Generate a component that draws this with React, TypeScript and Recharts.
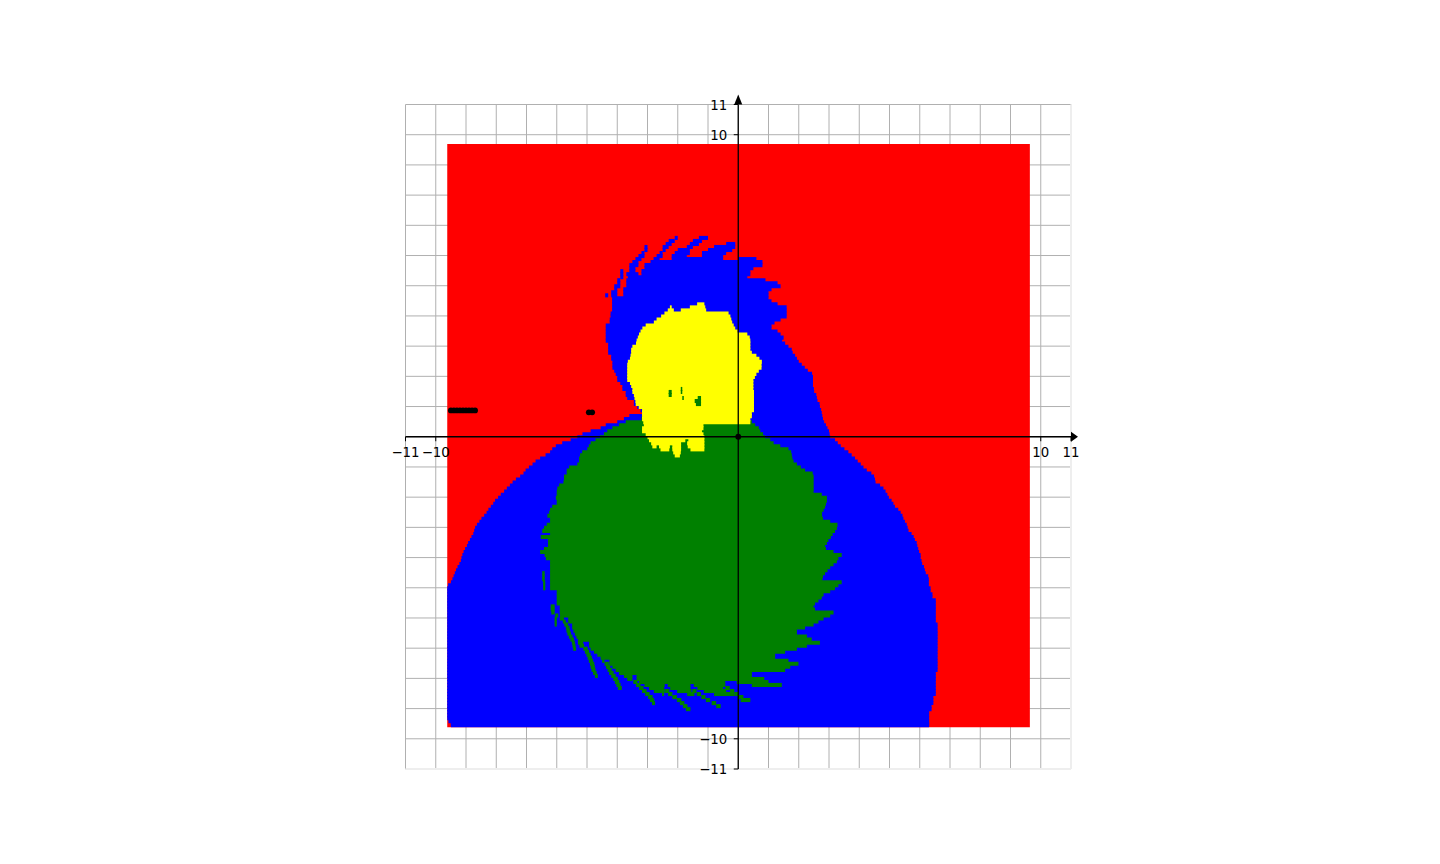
import React from 'react';
import {
  ScatterChart,
  Scatter,
  XAxis,
  YAxis,
  CartesianGrid,
  ReferenceArea,
  ReferenceLine,
  ReferenceDot,
} from 'recharts';

const gridTicks = [-11, -10, -9, -8, -7, -6, -5, -4, -3, -2, -1, 0, 1, 2, 3, 4, 5, 6, 7, 8, 9, 10, 11];
const labelledTicks = [-11, -10, 10, 11];

// Basins are sampled on a 0.1 grid, so rows and run ends are in tenths of an axis unit.
// Each row: [row, from, to, from, to, ...]
const domainBox = { x0: -96.2, x1: 96.4, y0: -96.2, y1: 96.9 };

const blueRows: number[][] = [
  [66, -21, -20, -13, -10],
  [65, -23, -21, -15, -12],
  [64, -24, -22, -16, -13, -4, -1],
  [63, -31, -30, -25, -23, -17, -15, -8, -1],
  [62, -31, -30, -25, -24, -20, -16, -10, -2],
  [61, -32, -31, -26, -25, -21, -16, -12, -4],
  [60, -33, -31, -27, -25, -22, -17, -12, -5],
  [59, -34, -32, -28, -26, -22, -5, 0, 6],
  [58, -35, -33, -29, 8],
  [57, -36, -33, -31, 8],
  [56, -36, -34, -31, 5],
  [55, -39, -38, -36, -34, -32, 4],
  [54, -39, -38, -37, -33, -32, 4],
  [53, -39, -38, -36.5, 3],
  [52, -40, -39, -37, 9],
  [51, -40, -39, -37, 13],
  [50, -41, -39, -37, 14],
  [49, -41, -40, -38, 11],
  [48, -42, -40, -38, 10],
  [47, -44, -43, -42, -40, -38, 10],
  [46, -41.7, 10],
  [45, -41.7, 11],
  [44, -41.7, 13],
  [43, -41.7, 16],
  [42, -41.7, 16],
  [41, -42.2, 16],
  [40, -42.2, 16],
  [39, -42.5, 14],
  [38, -42.5, 12],
  [37, -43.8, 11],
  [36, -43.8, 11],
  [35, -43.8, 13],
  [34, -43.8, 14],
  [33, -43.8, 15],
  [32, -43.8, 14.5],
  [31, -43, 15.5],
  [30, -43, 16.6],
  [29, -43, 17.7],
  [28, -43, 18],
  [27, -42, 18.8],
  [26, -42, 19.4],
  [25, -41.6, 20],
  [24, -41.6, 21],
  [23, -41.6, 22],
  [22, -41, 23],
  [21, -40.5, 24.4],
  [20, -40, 24.7],
  [19, -40, 24.7],
  [18, -39, 24.7],
  [17, -38.3, 24.7],
  [16, -38.3, 25],
  [15, -37.2, 25.1],
  [14, -37.2, 25.8],
  [13, -36.7, 26],
  [12, -34.5, 26.2],
  [11, -34.5, 26.9],
  [10, -33.4, 27],
  [9, -32.3, 27.4],
  [8, -31.8, 27.6],
  [7, -36, 27.8],
  [6, -37.8, 28],
  [5, -40, 28.4],
  [4, -43.8, 29],
  [3, -45.5, 29.5],
  [2, -48.8, 30],
  [1, -51.5, 30.2],
  [0, -53.2, 30.4],
  [-1, -55.4, 32],
  [-2, -58.2, 32.9],
  [-3, -60.3, 33.9],
  [-4, -61.5, 35.1],
  [-5, -62.2, 36.4],
  [-6, -63.7, 37.5],
  [-7, -65.5, 38.6],
  [-8, -67, 39.5],
  [-9, -68, 40.5],
  [-10, -69.2, 41.4],
  [-11, -70.3, 42.5],
  [-12, -71, 44],
  [-13, -72.1, 44.9],
  [-14, -73.5, 45.2],
  [-15, -74.6, 45.4],
  [-16, -75.5, 46.9],
  [-17, -76.5, 48],
  [-18, -77.4, 48.7],
  [-19, -78.5, 49.3],
  [-20, -79.4, 49.8],
  [-21, -80.4, 50.7],
  [-22, -81, 51.3],
  [-23, -81.8, 51.8],
  [-24, -82.6, 52.9],
  [-25, -83.2, 53.7],
  [-26, -84, 54.3],
  [-27, -84.9, 54.6],
  [-28, -85.6, 55.1],
  [-29, -86.4, 55.7],
  [-30, -87, 56],
  [-31, -87.3, 56.3],
  [-32, -87.6, 57.3],
  [-33, -88.2, 58],
  [-34, -88.7, 58.4],
  [-35, -89.3, 59],
  [-36, -89.7, 59.2],
  [-37, -90.3, 59.5],
  [-38, -90.8, 59.8],
  [-39, -91.2, 60.3],
  [-40, -91.5, 60.3],
  [-41, -91.7, 60.6],
  [-42, -92.2, 60.8],
  [-43, -92.8, 61.4],
  [-44, -93.3, 61.7],
  [-45, -93.7, 62],
  [-46, -94.1, 62.8],
  [-47, -94.5, 63],
  [-48, -95, 63],
  [-49, -95.9, 63],
  [-50, -96.2, 63.6],
  [-51, -96.2, 63.6],
  [-52, -96.2, 64.2],
  [-53, -96.2, 64.2],
  [-54, -96.2, 65.3],
  [-55, -96.2, 65.3],
  [-56, -96.2, 65.3],
  [-57, -96.2, 65.3],
  [-58, -96.2, 65.3],
  [-59, -96.2, 65.3],
  [-60, -96.2, 65.3],
  [-61, -96.2, 65.3],
  [-62, -96.2, 65.9],
  [-63, -96.2, 65.9],
  [-64, -96.2, 65.9],
  [-65, -96.2, 65.9],
  [-66, -96.2, 65.9],
  [-67, -96.2, 65.9],
  [-68, -96.2, 65.9],
  [-69, -96.2, 65.9],
  [-70, -96.2, 65.9],
  [-71, -96.2, 65.9],
  [-72, -96.2, 65.9],
  [-73, -96.2, 65.9],
  [-74, -96.2, 65.9],
  [-75, -96.2, 65.9],
  [-76, -96.2, 65.9],
  [-77, -96.2, 65.9],
  [-78, -96.2, 65.3],
  [-79, -96.2, 65.3],
  [-80, -96.2, 65.3],
  [-81, -96.2, 65.3],
  [-82, -96.2, 65.3],
  [-83, -96.2, 65.3],
  [-84, -96.2, 65.3],
  [-85, -96.2, 65.3],
  [-86, -96.2, 64.5],
  [-87, -96.2, 64.5],
  [-88, -96.2, 64.5],
  [-89, -96.2, 63.9],
  [-90, -96.2, 63.9],
  [-91, -96.2, 63.1],
  [-92, -96.2, 63.1],
  [-93, -96.2, 63.1],
  [-94, -95.8, 63.1],
  [-95, -95, 63.1],
  [-95.3, -95, 63.1],
];

const greenRows: number[][] = [
  [6, -32, -28],
  [5, -37.2, 4.5],
  [4, -39.4, 5.6],
  [3, -41.6, 6.8],
  [2, -43.3, 7.3],
  [1, -44.4, 8.2],
  [0, -45.7, 8.9],
  [-1, -47.2, 10.6],
  [-2, -48.8, 11.7],
  [-3, -49.4, 13.9],
  [-4, -49.9, 16.6],
  [-5, -51.6, 17.5],
  [-6, -52.3, 17.7],
  [-7, -52.6, 17.9],
  [-8, -52.6, 18.3],
  [-9, -53.2, 19.4],
  [-10, -55.9, 20.7],
  [-11, -56.7, 22.1],
  [-12, -56.7, 24.6],
  [-13, -57.6, 24.9],
  [-14, -57.6, 24.9],
  [-15, -57.8, 24.9],
  [-16, -59.2, 24.9],
  [-17, -59.8, 24.9],
  [-18, -60, 24.9],
  [-19, -60, 27.6],
  [-20, -60.3, 29.3],
  [-21, -60, 29.3],
  [-22, -60, 29],
  [-23, -61.5, 28.7],
  [-24, -62.2, 28.2],
  [-25, -62.5, 27.7],
  [-26, -63.1, 27.7],
  [-27, -62.2, 28],
  [-28, -62.2, 30.4],
  [-29, -63.3, 32.8],
  [-30, -64.2, 32.6],
  [-31, -64.8, 32],
  [-32, -62.2, 31.2],
  [-33, -65.3, 30.6],
  [-34, -62.9, 29.8],
  [-35, -62.9, 29.3],
  [-36, -62.9, 28.7],
  [-37, -64.2, 29],
  [-38, -65.5, 31.5],
  [-39, -64, 34.2],
  [-40, -63.6, 33.1],
  [-41, -62.2, 32.6],
  [-42, -62.2, 31.5],
  [-43, -62.2, 30.4],
  [-44, -62.2, 29.5],
  [-45, -64.8, -64, -62.2, 28.7],
  [-46, -64.8, -64, -62.2, 28],
  [-47, -64.8, -64, -62.2, 27.8],
  [-48, -64.5, -63.8, -62.2, 34.2],
  [-49, -64.5, -63.8, -62.2, 33.1],
  [-50, -64.5, -63.8, -62.2, 32],
  [-51, -60, 30.4],
  [-52, -60, 28.2],
  [-53, -60, 27.6],
  [-54, -60, 26.5],
  [-55, -60, 25.4],
  [-56, -62, -60.7, -59, 24.9],
  [-57, -62, -60.7, -59, 25.4],
  [-58, -61.8, -60.7, -59, 31.5],
  [-59, -60.5, -59.5, -58.9, 30.4],
  [-60, -60.7, -60, -59, -57.6, -56.2, 28.2],
  [-61, -60.7, -60, -58, -57, -56.2, 26.5],
  [-62, -60.7, -60, -57.5, -56.3, -54.9, 24.9],
  [-63, -57, -55.8, -54.9, 22.1],
  [-64, -56.8, -55.6, -54.5, 19.4],
  [-65, -56.5, -55.3, -54, 19.4],
  [-66, -56, -54.8, -53.5, 22.7],
  [-67, -55.5, -54.3, -53, 24.3],
  [-68, -55, -54, -53, -51.3, -49.3, 27],
  [-69, -54.8, -53.8, -52.5, -51, -49.3, 22.7],
  [-70, -54.6, -53.6, -51.2, -49.8, -48.8, 19.4],
  [-71, -50.7, -49.3, -47.7, 15.5],
  [-72, -50.2, -48.8, -46.6, 12.2],
  [-73, -49.8, -48.4, -45.5, 12.2],
  [-74, -49.4, -48, -45, -44.2, -42.6, 16.6],
  [-75, -49, -47.6, -44.2, -42.8, -42.6, 19.9],
  [-76, -48.8, -47.4, -43.7, -42.3, -41.6, 17.2],
  [-77, -48.5, -47.2, -43.2, -41.8, -40.5, 15.5],
  [-78, -48, -46.8, -42.7, -41.2, -39.4, 4.5],
  [-79, -47.4, -46.4, -42, -40.5, -37.8, -35, -33.6, 4.5],
  [-80, -41.3, -39.8, -36.7, -35, -33.6, 8.6],
  [-81, -40.8, -39.3, -34.7, -33.3, -32.8, -4.3, -0.5, 10],
  [-82, -40.3, -38.9, -33.8, -32.3, -31, -24.3, -23.3, -15.8, -14.7, -4.3, 4.5, 14.4],
  [-83, -39.8, -38.5, -32.8, -31.3, -29.5, -24.5, -22.5, -15.8, -13.5, -5, -4.3, -2.8],
  [-84, -31.8, -30.3, -27.9, -24.3, -24.2, -22.8, -20.2, -15.5, -15.2, -13.8, -11.4, -4, -2.7, -1.3],
  [-85, -30.8, -29.3, -25.2, -24.5, -23.2, -21.8, -16.9, -14.5, -13.7, -12.3, -8, -1.2, -1.2, 0.2],
  [-86, -29.8, -28.3, -21.8, -20.3, -12.2, -10.8, 0, 1.7],
  [-87, -29.2, -27.8, -20.3, -18.8, -10.7, -9.3, 0.8, 4],
  [-88, -28.5, -27.5, -19.3, -17.8, -8.8, -7.3],
  [-89, -18.3, -16.8, -7.3, -5.8],
  [-90, -17.3, -15.8],
];

const yellowRows: number[][] = [
  [44, -13.6, -11.2],
  [43, -22.6, -22, -16, -10.9],
  [42, -23.3, -21.3, -19, -10.6],
  [41, -24.4, -3.2],
  [40, -25.5, -2.6],
  [39, -27, -2.3],
  [38, -27.9, -2],
  [37, -30.6, -1.5],
  [36, -31.7, -1],
  [35, -32.3, -0.2],
  [34, -32.8, 3],
  [33, -33.2, 3.8],
  [32, -33.6, 4],
  [31, -33.8, 4],
  [30, -35, 4],
  [29, -35.4, 4],
  [28, -35.4, 4.5],
  [27, -35.6, 6],
  [26, -35.8, 7],
  [25, -36.5, 7.8],
  [24, -36.7, 7.7],
  [23, -36.7, 7.7],
  [22, -36.7, 6.8],
  [21, -36.7, 6],
  [20, -36.7, 5.5],
  [19, -36.7, 5],
  [18, -35.8, 5],
  [17, -35.4, 5],
  [16, -35, 5],
  [15, -35, 5.2],
  [14, -34.5, 5.2],
  [13, -34.3, 5.2],
  [12, -34, 5.2],
  [11, -33.9, 5.2],
  [10, -32.9, 5.2],
  [9, -31.8, 5.2],
  [8, -31.8, 4.5],
  [7, -31.8, 4.5],
  [6, -31.8, 4],
  [5, -31.4, 4],
  [4, -31.2, -11.5],
  [3, -31.8, -11.5],
  [2, -31.8, -12],
  [1, -30.6, -11.5],
  [0, -30, -11.2],
  [-1, -29.5, -17.5, -16.5, -11.2],
  [-2, -28.8, -18.9, -16.9, -11.2],
  [-3, -28.4, -27, -26.2, -22.6, -21.8, -18.9, -16.7, -11.2],
  [-4, -25.7, -22.8, -21.8, -18.9, -15.8, -11.2],
  [-5, -21.5, -19],
  [-6, -21, -19.3],
];

const greenSpotRows: number[][] = [
  [16, -19, -18.5],
  [15, -23, -22, -19, -18.5],
  [14, -23, -22],
  [13, -18.5, -18, -13.4, -12.3],
  [12, -14.4, -12.3],
  [11, -14, -12.3],
];

const markerPoints = [
  { x: -9.5, y: 0.87 },
  { x: -9.4, y: 0.87 },
  { x: -9.3, y: 0.87 },
  { x: -9.2, y: 0.87 },
  { x: -9.1, y: 0.87 },
  { x: -9.0, y: 0.87 },
  { x: -8.9, y: 0.87 },
  { x: -8.8, y: 0.87 },
  { x: -8.7, y: 0.87 },
  { x: -4.94, y: 0.81 },
  { x: -4.83, y: 0.81 },
  { x: 0, y: 0 },
];

// rows overlap downward a little so no antialiased seam shows the layer under them
const rowAreas = (rows: number[][], fill: string) =>
  rows.flatMap((row) => {
    const [r, ...ends] = row;
    const out: React.ReactNode[] = [];
    for (let i = 0; i < ends.length; i += 2) {
      out.push(
        <ReferenceArea
          key={`${fill}-${r}-${i}`}
          x1={ends[i] / 10}
          x2={ends[i + 1] / 10}
          y1={(r + 0.5) / 10}
          y2={(r - 0.85) / 10}
          fill={fill}
          fillOpacity={1}
          stroke="none"
          ifOverflow="visible"
        />
      );
    }
    return out;
  });

const font = '"DejaVu Sans"';

const NoTick = () => <g />;

const XTick = ({ cx, cy, value }: any) => (
  <g>
    <line x1={cx} x2={cx} y1={cy} y2={cy + 4.5} stroke="#000" strokeWidth={1} />
    <text x={cx} y={cy + 20.5} textAnchor="middle" fontFamily={font} fontSize={13.3} fill="#000">
      {value < 0 ? `\u2212${-value}` : value}
    </text>
  </g>
);

const YTick = ({ cx, cy, value }: any) => (
  <g>
    <line x1={cx - 4.5} x2={cx} y1={cy} y2={cy} stroke="#000" strokeWidth={1} />
    <text x={cx - 11} y={cy + 5} textAnchor="end" fontFamily={font} fontSize={13.3} fill="#000">
      {value < 0 ? `\u2212${-value}` : value}
    </text>
  </g>
);

const ArrowRight = ({ cx, cy }: any) => (
  <polygon points={`${cx},${cy - 5} ${cx + 7},${cy} ${cx},${cy + 5}`} fill="#000" />
);

const ArrowUp = ({ cx, cy }: any) => (
  <polygon points={`${cx - 4},${cy} ${cx},${cy - 10} ${cx + 4},${cy}`} fill="#000" />
);

const Marker = ({ cx, cy }: any) => <circle cx={cx} cy={cy} r={2.9} fill="#000" />;

const App: React.FC = () => (
  <div style={{ position: 'absolute', left: 0, top: 0, width: 1440, height: 864, background: '#fff' }}>
    <ScatterChart width={1440} height={864} margin={{ top: 104.5, left: 405.5, right: 369, bottom: 95 }}>
      <CartesianGrid stroke="#b0b0b0" strokeWidth={1} />
      <XAxis
        type="number"
        dataKey="x"
        domain={[-11, 11]}
        ticks={gridTicks}
        interval={0}
        tick={<NoTick />}
        tickLine={false}
        axisLine={false}
        height={0}
        allowDataOverflow
      />
      <YAxis
        type="number"
        dataKey="y"
        domain={[-11, 11]}
        ticks={gridTicks}
        interval={0}
        tick={<NoTick />}
        tickLine={false}
        axisLine={false}
        width={0}
        allowDataOverflow
      />
      <ReferenceArea
        x1={domainBox.x0 / 10}
        x2={domainBox.x1 / 10}
        y1={domainBox.y1 / 10}
        y2={domainBox.y0 / 10}
        fill="#ff0000"
        fillOpacity={1}
        stroke="none"
      />
      {rowAreas(blueRows, '#0000ff')}
      {rowAreas(greenRows, '#008000')}
      {rowAreas(yellowRows, '#ffff00')}
      {rowAreas(greenSpotRows, '#008000')}
      {/* the far grid edges are almost white in the source */}
      <ReferenceLine x={11} stroke="#eeeeee" strokeWidth={2} ifOverflow="visible" />
      <ReferenceLine y={-11} stroke="#eeeeee" strokeWidth={2} ifOverflow="visible" />
      <ReferenceLine y={0} stroke="#000" strokeWidth={1.3} />
      <ReferenceLine x={0} stroke="#000" strokeWidth={1.3} />
      {labelledTicks.map((v) => (
        <ReferenceDot key={`xt${v}`} x={v} y={0} ifOverflow="visible" shape={<XTick value={v} />} />
      ))}
      {labelledTicks.map((v) => (
        <ReferenceDot key={`yt${v}`} x={0} y={v} ifOverflow="visible" shape={<YTick value={v} />} />
      ))}
      <ReferenceDot x={11} y={0} ifOverflow="visible" shape={<ArrowRight />} />
      <ReferenceDot x={0} y={11} ifOverflow="visible" shape={<ArrowUp />} />
      <Scatter data={markerPoints} shape={<Marker />} isAnimationActive={false} />
    </ScatterChart>
  </div>
);

export default App;
